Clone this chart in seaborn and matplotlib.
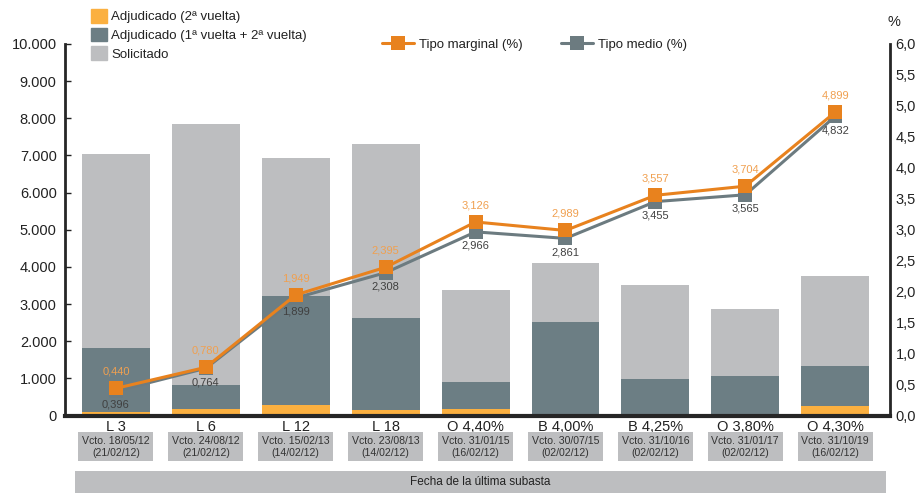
import numpy as np
import pandas as pd
import matplotlib.pyplot as plt
import seaborn as sns
from matplotlib.patches import Patch, Rectangle
from matplotlib.lines import Line2D

# Datos de las subastas
categorias = ["L 3", "L 6", "L 12", "L 18", "O 4,40%", "B 4,00%", "B 4,25%", "O 3,80%", "O 4,30%"]
vencimientos = ["Vcto. 18/05/12", "Vcto. 24/08/12", "Vcto. 15/02/13", "Vcto. 23/08/13",
                "Vcto. 31/01/15", "Vcto. 30/07/15", "Vcto. 31/10/16", "Vcto. 31/01/17",
                "Vcto. 31/10/19"]
fechas_subasta = ["(21/02/12)", "(21/02/12)", "(14/02/12)", "(14/02/12)", "(16/02/12)",
                  "(02/02/12)", "(02/02/12)", "(02/02/12)", "(16/02/12)"]
solicitado = [7050, 7860, 6920, 7320, 3370, 4100, 3510, 2870, 3750]
adjudicado_total = [1820, 820, 3210, 2620, 900, 2520, 990, 1070, 1340]
adjudicado_2v = [90, 170, 280, 150, 180, 0, 0, 0, 270]
tipo_marginal = [0.440, 0.780, 1.949, 2.395, 3.126, 2.989, 3.557, 3.704, 4.899]
tipo_medio = [0.396, 0.764, 1.899, 2.308, 2.966, 2.861, 3.455, 3.565, 4.832]

# Colores
GRIS = "#BDBEC0"
PIZARRA = "#6C7E84"
NARANJA_CLARO = "#FBB040"
NARANJA = "#E8821E"
GRIS_LINEA = "#6C7B80"
TEXTO = "#222222"

sns.set_style("white")
plt.rcParams["font.family"] = ["Liberation Sans", "DejaVu Sans"]

df = pd.DataFrame({
    "subasta": categorias,
    "solicitado": solicitado,
    "adjudicado_total": adjudicado_total,
    "adjudicado_2v": adjudicado_2v,
})

fig, ax = plt.subplots(figsize=(9.23, 4.93), dpi=100)
fig.subplots_adjust(left=0.0704, right=0.9643, top=0.9108, bottom=0.157)

# Barras superpuestas
for col, c in [("solicitado", GRIS), ("adjudicado_total", PIZARRA), ("adjudicado_2v", NARANJA_CLARO)]:
    sns.barplot(data=df, x="subasta", y=col, color=c, saturation=1, width=0.756,
                linewidth=0, edgecolor="none", ax=ax)

ax.set_ylim(0, 10000)
ax.set_yticks(range(0, 10001, 1000))
ax.set_yticklabels([f"{v:,}".replace(",", ".") for v in range(0, 10001, 1000)])
ax.set_xlabel("")
ax.set_ylabel("")
ax.tick_params(axis="y", direction="in", length=4, width=1, pad=6, labelsize=10.5, colors=TEXTO)
ax.tick_params(axis="x", length=0, pad=3, labelsize=10.5, colors=TEXTO)
for s in ["top", "right"]:
    ax.spines[s].set_visible(False)
ax.spines["left"].set_linewidth(2)
ax.spines["bottom"].set_linewidth(3)

# Tipos en eje derecho
ax2 = ax.twinx()
x = np.arange(len(categorias))
sns.lineplot(x=x, y=tipo_medio, ax=ax2, color=GRIS_LINEA, linewidth=2.2, marker="s",
             markersize=10, markeredgewidth=0)
sns.lineplot(x=x, y=tipo_marginal, ax=ax2, color=NARANJA, linewidth=2.2, marker="s",
             markersize=10, markeredgewidth=0)
ax2.set_ylim(0, 6)
ax2.set_yticks(np.arange(0, 6.01, 0.5))
ax2.set_yticklabels([f"{v:.1f}".replace(".", ",") for v in np.arange(0, 6.01, 0.5)])
ax2.tick_params(axis="y", length=0, pad=4, labelsize=10.5, colors=TEXTO)
for s in ["top", "left", "bottom"]:
    ax2.spines[s].set_visible(False)
ax2.spines["right"].set_linewidth(2)
ax.set_xlim(-0.567, 8.61)

for i, (m, d) in enumerate(zip(tipo_marginal, tipo_medio)):
    ax2.annotate(f"{m:.3f}".replace(".", ","), (i, m), xytext=(0, 12), textcoords="offset points",
                 ha="center", va="center", fontsize=8, color="#F0A050")
    ax2.annotate(f"{d:.3f}".replace(".", ","), (i, d), xytext=(0, -10), textcoords="offset points",
                 ha="center", va="center", fontsize=8, color="#404040")

# Cajas con vencimiento y fecha de subasta
trans = ax.get_xaxis_transform()
for i, (v, f) in enumerate(zip(vencimientos, fechas_subasta)):
    ax.add_patch(Rectangle((i - 0.417, -0.1228), 0.834, 0.078, transform=trans,
                           facecolor=GRIS, edgecolor="none", clip_on=False))
    ax.text(i, -0.0838, f"{v}\n{f}", transform=trans, ha="center", va="center",
            fontsize=7.6, color="#333333", linespacing=1.25)

# Banda inferior
fig.patches.append(Rectangle((75 / 923, 0), 811 / 923, 22 / 493, transform=fig.transFigure,
                             facecolor=GRIS, edgecolor="none"))
fig.text(480 / 923, 11 / 493, "Fecha de la última subasta", ha="center", va="center",
         fontsize=8.5, color="#222222")

fig.text(894 / 923, 1 - 22 / 493, "%", ha="center", va="center", fontsize=10.5, color=TEXTO)

# Leyendas
barras = [Patch(color=NARANJA_CLARO, label="Adjudicado (2ª vuelta)"),
          Patch(color=PIZARRA, label="Adjudicado (1ª vuelta + 2ª vuelta)"),
          Patch(color=GRIS, label="Solicitado")]
fig.legend(handles=barras, loc="upper left", bbox_to_anchor=(91 / 923, 1 - 9 / 493),
           frameon=False, fontsize=9.5, handlelength=1.22, handleheight=1.22,
           handletextpad=0.3, labelspacing=0.33, borderpad=0, borderaxespad=0,
           labelcolor=TEXTO)
fig.legend(handles=[Line2D([], [], color=NARANJA, linewidth=2.2, marker="s", markersize=10,
                           markeredgewidth=0, label="Tipo marginal (%)")],
           loc="center left", bbox_to_anchor=(382 / 923, 1 - 45 / 493), frameon=False,
           fontsize=9.5, handlelength=2.4, handletextpad=0.4, borderpad=0, borderaxespad=0,
           labelcolor=TEXTO)
fig.legend(handles=[Line2D([], [], color=GRIS_LINEA, linewidth=2.2, marker="s", markersize=10,
                           markeredgewidth=0, label="Tipo medio (%)")],
           loc="center left", bbox_to_anchor=(561 / 923, 1 - 45 / 493), frameon=False,
           fontsize=9.5, handlelength=2.4, handletextpad=0.4, borderpad=0, borderaxespad=0,
           labelcolor=TEXTO)

fig.savefig("out.png", dpi=100)
